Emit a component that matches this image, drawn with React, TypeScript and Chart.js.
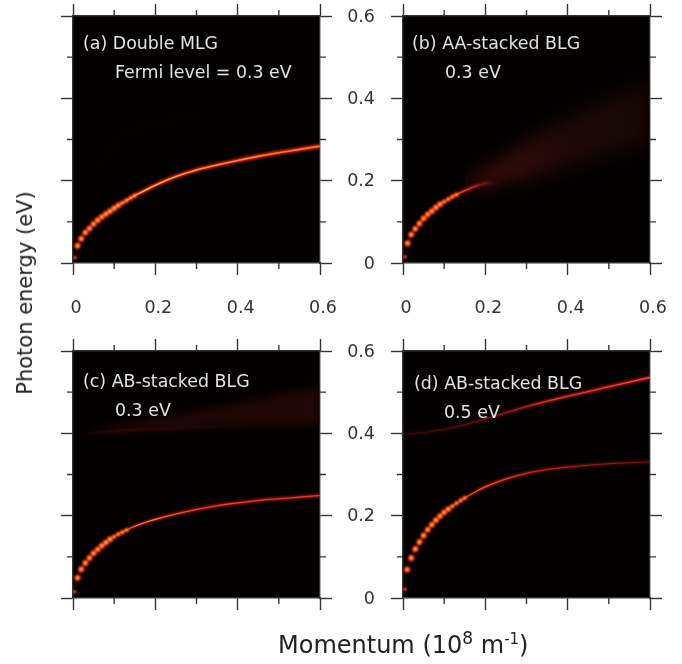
import React, { useEffect, useRef } from "react";
import { Chart, registerables } from "chart.js";

// ---- data ----
const AXIS_MAX = 0.6;
const MAJOR_STEP = 0.2;
const MINOR_TICKS = [0.1, 0.3, 0.5];

const A_X = [0.005, 0.011, 0.02, 0.03, 0.04, 0.05, 0.06, 0.07, 0.08, 0.09, 0.1, 0.11, 0.12, 0.13, 0.14, 0.15, 0.16, 0.18, 0.2, 0.25, 0.3, 0.35, 0.4, 0.45, 0.5, 0.55, 0.6];
const A_Y = [0.013, 0.042, 0.059, 0.074, 0.084, 0.095, 0.104, 0.112, 0.119, 0.126, 0.133, 0.14, 0.146, 0.152, 0.158, 0.164, 0.169, 0.179, 0.189, 0.21, 0.226, 0.238, 0.249, 0.259, 0.268, 0.276, 0.284];
const A_FAINT_X = [0.065, 0.105, 0.21, 0.307];
const A_FAINT_Y = [0.233, 0.298, 0.339, 0.367];

const B_X = [0.005, 0.011, 0.02, 0.03, 0.04, 0.05, 0.06, 0.07, 0.08, 0.09, 0.1, 0.11, 0.12, 0.13, 0.14, 0.16, 0.18, 0.2, 0.22, 0.24];
const B_Y = [0.015, 0.048, 0.069, 0.083, 0.096, 0.108, 0.118, 0.126, 0.135, 0.143, 0.149, 0.155, 0.161, 0.166, 0.171, 0.18, 0.188, 0.193, 0.195, 0.196];
const B_BAND_X = [0.15, 0.22, 0.3, 0.4, 0.5, 0.6];
const B_BAND_TOP = [0.195, 0.24, 0.295, 0.35, 0.4, 0.445];
const B_BAND_BOTTOM = [0.18, 0.192, 0.205, 0.235, 0.265, 0.29];

const C_X = [0.004, 0.011, 0.02, 0.03, 0.04, 0.05, 0.06, 0.07, 0.08, 0.09, 0.1, 0.11, 0.12, 0.13, 0.14, 0.16, 0.18, 0.2, 0.25, 0.3, 0.35, 0.4, 0.45, 0.5, 0.55, 0.6];
const C_Y = [0.015, 0.049, 0.07, 0.085, 0.097, 0.109, 0.118, 0.127, 0.135, 0.143, 0.149, 0.155, 0.16, 0.165, 0.17, 0.178, 0.185, 0.191, 0.204, 0.215, 0.224, 0.231, 0.237, 0.241, 0.245, 0.249];
const C_BAND_X = [0.03, 0.1, 0.2, 0.3, 0.4, 0.5, 0.6];
const C_BAND_TOP = [0.405, 0.418, 0.435, 0.455, 0.473, 0.495, 0.513];
const C_BAND_BOTTOM = [0.4, 0.405, 0.41, 0.415, 0.417, 0.419, 0.42];

const D_LOW_X = [0.005, 0.01, 0.02, 0.03, 0.04, 0.05, 0.06, 0.07, 0.08, 0.09, 0.1, 0.11, 0.12, 0.13, 0.14, 0.15, 0.16, 0.18, 0.2, 0.25, 0.3, 0.35, 0.4, 0.5, 0.6];
const D_LOW_Y = [0.021, 0.069, 0.097, 0.119, 0.136, 0.152, 0.166, 0.178, 0.189, 0.199, 0.208, 0.216, 0.223, 0.23, 0.237, 0.243, 0.249, 0.26, 0.27, 0.289, 0.303, 0.312, 0.318, 0.326, 0.331];
const D_UP_X = [0, 0.05, 0.1, 0.15, 0.2, 0.25, 0.3, 0.4, 0.5, 0.6];
const D_UP_Y = [0.398, 0.402, 0.41, 0.421, 0.435, 0.45, 0.465, 0.49, 0.513, 0.536];

const PANEL_LINES = [
  { text: "(a) Double MLG", left: 83, center: 44 },
  { text: "Fermi level = 0.3 eV", left: 115, center: 73 },
  { text: "(b) AA-stacked BLG", left: 412, center: 44 },
  { text: "0.3 eV", left: 445, center: 73 },
  { text: "(c) AB-stacked BLG", left: 83, center: 382 },
  { text: "0.3 eV", left: 115, center: 411 },
  { text: "(d) AB-stacked BLG", left: 414, center: 384 },
  { text: "0.5 eV", left: 444, center: 413 },
];

// ---- helpers ----
const FONT = "'DejaVu Sans', Verdana, sans-serif";
const INK = "#333333";
const zip = (xs: number[], ys: number[]) => xs.map((x, i) => ({ x, y: ys[i] }));
type Stop = [number, string];

const hStroke = (stops: Stop[]) => (ctx: any) => {
  const area = ctx.chart.chartArea;
  if (!area) return stops[0][1];
  const g = ctx.chart.ctx.createLinearGradient(area.left, 0, area.right, 0);
  stops.forEach(([p, c]) => g.addColorStop(p, c));
  return g;
};

const plain = {
  showLine: true,
  pointRadius: 0,
  pointHoverRadius: 0,
  fill: false,
  cubicInterpolationMode: "monotone",
  xAxisID: "x",
  yAxisID: "y",
};

function curve(xs: number[], ys: number[], dots: number, glow: Stop[], core: Stop[], glowW: number, coreW: number) {
  const pts = zip(xs, ys);
  const dotPts = pts.slice(0, dots);
  const fade = (c: any, big: number, small: number) => {
    const i = c.dataIndex;
    if (i === 0) return small * 0.7;
    return i > dots - 5 ? small : big;
  };
  return [
    { ...plain, data: dotPts, showLine: false, pointRadius: (c: any) => fade(c, 1.7, 1.2), pointBackgroundColor: "#ffc84a", pointBorderWidth: 0, blur: 0.8 },
    { ...plain, data: pts, borderColor: hStroke(core), borderWidth: coreW, blur: 0.5 },
    { ...plain, data: dotPts, showLine: false, pointRadius: (c: any) => fade(c, 3.2, 2.4), pointBackgroundColor: "#ee2810", pointBorderWidth: 0, blur: 1 },
    { ...plain, data: pts, borderColor: hStroke(glow), borderWidth: glowW, blur: 1.1 },
  ];
}

function band(xs: number[], top: number[], bottom: number[], stops: Stop[], blur: number) {
  return [
    { ...plain, data: zip(xs, top), borderWidth: 0, borderColor: "transparent", fill: "+1", backgroundColor: hStroke(stops), blur },
    { ...plain, data: zip(xs, bottom), borderWidth: 0, borderColor: "transparent" },
  ];
}

const panelA = [
  ...curve(A_X, A_Y, 16,
    [[0, "rgba(170,15,8,.1)"], [0.04, "rgba(170,15,8,.25)"], [0.14, "rgba(190,20,10,.45)"], [0.28, "rgba(225,30,15,.9)"], [1, "rgba(235,35,20,.95)"]],
    [[0, "rgba(255,170,50,0)"], [0.2, "rgba(255,170,50,.4)"], [0.28, "rgba(255,185,60,.95)"], [0.55, "rgba(255,150,40,.95)"], [1, "rgba(255,110,50,.95)"]],
    4.2, 1.6),
  { ...plain, data: zip(A_FAINT_X, A_FAINT_Y), borderColor: "rgba(60,14,10,.15)", borderWidth: 3, blur: 2 },
];

const panelB = [
  ...curve(B_X, B_Y, 14,
    [[0, "rgba(170,15,8,.1)"], [0.04, "rgba(170,15,8,.25)"], [0.14, "rgba(190,20,10,.5)"], [0.25, "rgba(220,25,15,.8)"], [0.33, "rgba(180,25,15,.5)"], [0.4, "rgba(120,20,10,0)"]],
    [[0, "rgba(255,150,50,0)"], [0.18, "rgba(255,150,50,.35)"], [0.24, "rgba(255,110,50,.75)"], [0.33, "rgba(240,60,30,.2)"], [0.36, "rgba(240,60,30,0)"]],
    3.6, 1.1),
  ...band(B_BAND_X, B_BAND_TOP, B_BAND_BOTTOM,
    [[0.25, "rgba(85,18,14,.85)"], [0.45, "rgba(60,14,12,.8)"], [0.7, "rgba(40,11,9,.7)"], [1, "rgba(32,9,7,.65)"]], 9),
];

const panelC = [
  ...curve(C_X, C_Y, 14,
    [[0, "rgba(170,15,8,.1)"], [0.04, "rgba(170,15,8,.25)"], [0.14, "rgba(190,20,10,.5)"], [0.3, "rgba(220,25,15,.8)"], [1, "rgba(225,30,20,.75)"]],
    [[0, "rgba(255,170,50,0)"], [0.18, "rgba(255,170,50,.35)"], [0.27, "rgba(255,170,60,.85)"], [0.5, "rgba(255,80,40,.9)"], [1, "rgba(255,70,40,.8)"]],
    3, 1.1),
  { ...plain, data: zip(C_BAND_X, C_BAND_BOTTOM), borderColor: hStroke([[0.03, "rgba(90,20,16,0)"], [0.15, "rgba(90,20,16,.55)"], [0.5, "rgba(70,16,14,.45)"], [0.8, "rgba(60,14,12,0)"]]), borderWidth: 2, blur: 1.2 },
  ...band(C_BAND_X, C_BAND_TOP, C_BAND_BOTTOM,
    [[0, "rgba(50,12,10,.35)"], [0.2, "rgba(58,14,12,.6)"], [0.6, "rgba(46,12,10,.6)"], [1, "rgba(46,12,10,.65)"]], 4),
];

const panelD = [
  ...curve(D_LOW_X, D_LOW_Y, 16,
    [[0, "rgba(170,15,8,.1)"], [0.04, "rgba(170,15,8,.25)"], [0.2, "rgba(190,20,10,.5)"], [0.33, "rgba(220,25,15,.85)"], [0.6, "rgba(190,25,15,.6)"], [1, "rgba(120,20,12,.5)"]],
    [[0, "rgba(255,170,50,0)"], [0.24, "rgba(255,170,50,.4)"], [0.33, "rgba(255,130,50,.8)"], [0.55, "rgba(235,50,30,.7)"], [1, "rgba(150,30,20,.5)"]],
    3, 1.1),
  ...curve(D_UP_X, D_UP_Y, 0,
    [[0, "rgba(80,15,10,.4)"], [0.3, "rgba(120,20,12,.55)"], [0.55, "rgba(200,25,15,.8)"], [1, "rgba(235,30,20,.95)"]],
    [[0, "rgba(120,20,15,.2)"], [0.35, "rgba(190,30,20,.45)"], [0.6, "rgba(255,60,40,.85)"], [1, "rgba(255,80,60,.95)"]],
    3, 1.1),
];

// Registered ahead of the stock plugins so that the filter is already set when a fill is painted.
const softMarks = {
  id: "softMarks",
  beforeDraw(chart: any) {
    const { ctx, chartArea: a } = chart;
    ctx.save();
    ctx.fillStyle = "#030000";
    ctx.fillRect(a.left, a.top, a.right - a.left, a.bottom - a.top);
    ctx.restore();
  },
  beforeDatasetDraw(chart: any, args: any) {
    const b = chart.data.datasets[args.index].blur;
    if (b) chart.ctx.filter = `blur(${b}px)`;
  },
  afterDatasetDraw(chart: any) {
    chart.ctx.filter = "none";
  },
  afterDraw(chart: any) {
    const { ctx, chartArea: a, scales } = chart;
    ctx.save();
    ctx.strokeStyle = INK;
    ctx.lineWidth = 1.4;
    ctx.beginPath();
    MINOR_TICKS.forEach((v) => {
      const px = scales.x.getPixelForValue(v);
      const py = scales.y.getPixelForValue(v);
      ctx.moveTo(px, a.bottom); ctx.lineTo(px, a.bottom + 6);
      ctx.moveTo(px, a.top); ctx.lineTo(px, a.top - 6);
      ctx.moveTo(a.left, py); ctx.lineTo(a.left - 6, py);
      ctx.moveTo(a.right, py); ctx.lineTo(a.right + 6, py);
    });
    ctx.stroke();
    ctx.restore();
  },
};
Chart.register(softMarks, ...registerables);

const MARGIN = { left: 60, right: 20, top: 16, bottom: 60 };
const PLOT = 247;

const fmt = (v: any) => (Number(v) === 0 ? "0" : Number(v).toFixed(1));

function axis(position: string, size: number, showLabels: boolean) {
  const horizontal = position === "top" || position === "bottom";
  return {
    type: "linear",
    position,
    min: 0,
    max: AXIS_MAX,
    afterFit: (s: any) => {
      if (horizontal) s.height = size;
      else s.width = size;
      s.paddingLeft = s.paddingRight = s.paddingTop = s.paddingBottom = 0;
    },
    border: { color: INK, width: 1.4 },
    grid: { drawOnChartArea: false, drawTicks: true, tickLength: 12, tickColor: INK, tickWidth: 1.4 },
    ticks: {
      display: showLabels,
      stepSize: MAJOR_STEP,
      autoSkip: false,
      maxRotation: 0,
      minRotation: 0,
      padding: horizontal ? 23 : 16,
      labelOffset: horizontal ? 3 : 1,
      color: INK,
      font: { family: FONT, size: 17.5 },
      callback: fmt,
    },
  };
}

function Panel({ left, top, datasets, xLabels, yLabels }: any) {
  const ref = useRef<HTMLCanvasElement>(null);
  useEffect(() => {
    const chart = new Chart(ref.current as any, {
      type: "scatter",
      data: { datasets },
      options: {
        animation: false,
        responsive: false,
        events: [],
        layout: { padding: 0 },
        plugins: { legend: { display: false }, tooltip: { enabled: false }, title: { display: false } },
        scales: {
          x: axis("bottom", MARGIN.bottom, xLabels),
          xTop: axis("top", MARGIN.top, false),
          y: axis("left", MARGIN.left, yLabels),
          yRight: axis("right", MARGIN.right, false),
        },
      },
    } as any);
    return () => chart.destroy();
  }, []);
  return (
    <canvas
      ref={ref}
      width={MARGIN.left + PLOT + MARGIN.right}
      height={MARGIN.top + PLOT + MARGIN.bottom}
      style={{ position: "absolute", left, top, width: MARGIN.left + PLOT + MARGIN.right, height: MARGIN.top + PLOT + MARGIN.bottom }}
    />
  );
}

export default function App() {
  return (
    <div style={{ position: "absolute", left: 0, top: 0, width: 682, height: 664, background: "#fff", overflow: "hidden", fontFamily: FONT }}>
      <Panel left={13} top={0} datasets={panelA} xLabels yLabels={false} />
      <Panel left={343} top={0} datasets={panelB} xLabels yLabels />
      <Panel left={13} top={335} datasets={panelC} xLabels={false} yLabels={false} />
      <Panel left={343} top={335} datasets={panelD} xLabels={false} yLabels />
      {PANEL_LINES.map((l, i) => (
        <div key={i} style={{ position: "absolute", left: l.left, top: l.center, transform: "translateY(-50%)", color: "#e2e2e2", fontSize: 17.4, whiteSpace: "nowrap", lineHeight: 1 }}>
          {l.text}
        </div>
      ))}
      <div style={{ position: "absolute", left: 25, top: 293, transform: "translate(-50%,-50%) rotate(-90deg)", color: "#222", fontSize: 21, whiteSpace: "nowrap" }}>
        Photon energy (eV)
      </div>
      <div style={{ position: "absolute", left: 278, top: 645, transform: "translateY(-50%)", color: "#222", fontSize: 24, whiteSpace: "nowrap", lineHeight: 1 }}>
        Momentum (10<sup style={{ fontSize: 17, lineHeight: 0 }}>8</sup> m<sup style={{ fontSize: 15, lineHeight: 0 }}>-1</sup>)
      </div>
    </div>
  );
}
